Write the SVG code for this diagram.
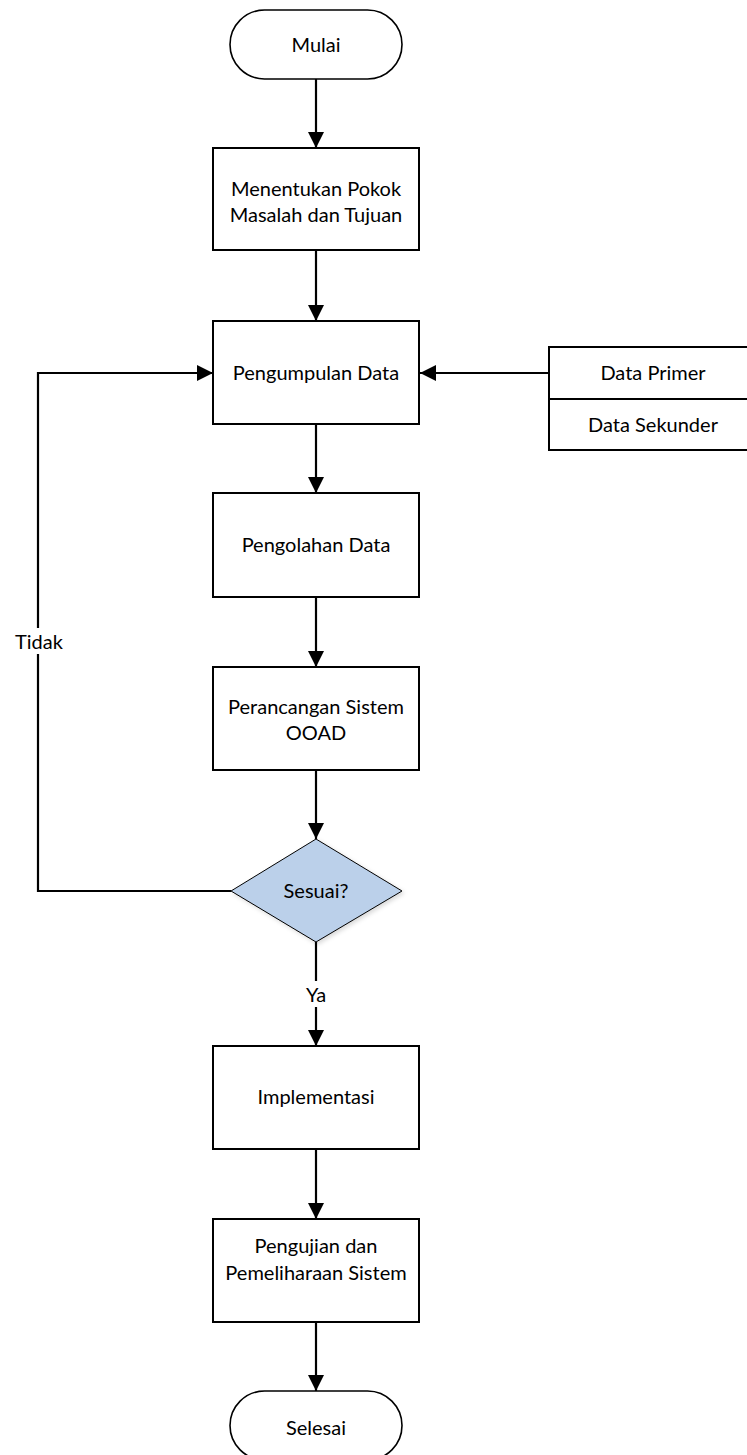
<svg xmlns="http://www.w3.org/2000/svg" width="747" height="1455" viewBox="0 0 747 1455">
<defs>
<style>
.box{fill:#fff;stroke:#000;stroke-width:2}
.term{fill:#fff;stroke:#000;stroke-width:1.6}
.dia{fill:#BBD0EA;stroke:#000;stroke-width:1}
.ln{fill:none;stroke:#000;stroke-width:2.2}
.t{font-family:Lato,"Liberation Sans",sans-serif;font-size:20px;fill:#000;text-anchor:middle}
.lbl{fill:#fff;stroke:none}
</style>
<marker id="ah" viewBox="0 0 16 16" refX="16" refY="8" markerWidth="16" markerHeight="16" markerUnits="userSpaceOnUse" orient="auto">
<path d="M0,0 L16,8 L0,16 Z" fill="#000"/>
</marker>
<filter id="sh" x="-10%" y="-10%" width="130%" height="130%">
<feDropShadow dx="2" dy="2" stdDeviation="2" flood-color="#000" flood-opacity="0.15"/>
</filter>
</defs>
<g id="connectors">
<line class="ln" x1="316" y1="79" x2="316" y2="148" marker-end="url(#ah)"/>
<line class="ln" x1="316" y1="250" x2="316" y2="321" marker-end="url(#ah)"/>
<line class="ln" x1="316" y1="424" x2="316" y2="493" marker-end="url(#ah)"/>
<line class="ln" x1="316" y1="597" x2="316" y2="667" marker-end="url(#ah)"/>
<line class="ln" x1="316" y1="770" x2="316" y2="839" marker-end="url(#ah)"/>
<line class="ln" x1="316" y1="942" x2="316" y2="1046" marker-end="url(#ah)"/>
<line class="ln" x1="316" y1="1149" x2="316" y2="1219" marker-end="url(#ah)"/>
<line class="ln" x1="316" y1="1322" x2="316" y2="1391" marker-end="url(#ah)"/>
<line class="ln" x1="549" y1="373" x2="420" y2="373" marker-end="url(#ah)"/>
<polyline class="ln" points="231,891 38,891 38,373 213,373" marker-end="url(#ah)"/>
<rect class="lbl" x="12" y="628" width="54" height="26"/>
<text class="t" x="39" y="649">Tidak</text>
<rect class="lbl" x="302" y="981" width="28" height="26"/>
<text class="t" x="316" y="1002">Ya</text>
</g>
<g id="mulai">
<rect class="term" x="230" y="10" width="172" height="69" rx="34.5" ry="34.5"/>
<text class="t" x="316" y="52">Mulai</text>
</g>
<g id="menentukan">
<rect class="box" x="213" y="148" width="206" height="102"/>
<text class="t" x="316" y="196">Menentukan Pokok</text>
<text class="t" x="316" y="222">Masalah dan Tujuan</text>
</g>
<g id="pengumpulan">
<rect class="box" x="213" y="321" width="206" height="103"/>
<text class="t" x="316" y="380">Pengumpulan Data</text>
</g>
<g id="data">
<rect class="box" x="549" y="347" width="200" height="103"/>
<line x1="549" y1="399" x2="749" y2="399" stroke="#000" stroke-width="2"/>
<text class="t" x="653" y="380">Data Primer</text>
<text class="t" x="653" y="432">Data Sekunder</text>
</g>
<g id="pengolahan">
<rect class="box" x="213" y="493" width="206" height="104"/>
<text class="t" x="316" y="552">Pengolahan Data</text>
</g>
<g id="perancangan">
<rect class="box" x="213" y="667" width="206" height="103"/>
<text class="t" x="316" y="714">Perancangan Sistem</text>
<text class="t" x="316" y="740">OOAD</text>
</g>
<g id="sesuai">
<polygon class="dia" filter="url(#sh)" points="316,839 402,891 316,942 231,891"/>
<text class="t" x="316" y="898">Sesuai?</text>
</g>
<g id="implementasi">
<rect class="box" x="213" y="1046" width="206" height="103"/>
<text class="t" x="316" y="1104">Implementasi</text>
</g>
<g id="pengujian">
<rect class="box" x="213" y="1219" width="206" height="103"/>
<text class="t" x="316" y="1253">Pengujian dan</text>
<text class="t" x="316" y="1280">Pemeliharaan Sistem</text>
</g>
<g id="selesai">
<rect class="term" x="230" y="1391" width="172" height="69" rx="34.5" ry="34.5"/>
<text class="t" x="316" y="1435">Selesai</text>
</g>
</svg>
